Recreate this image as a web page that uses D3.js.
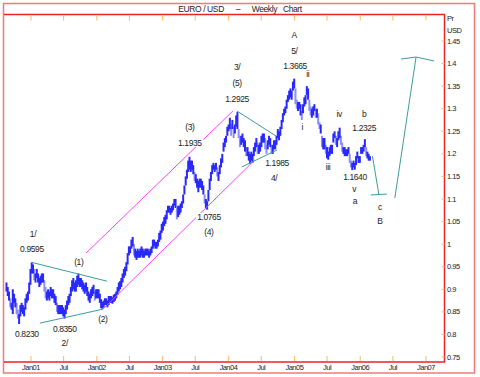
<!DOCTYPE html>
<html>
<head>
<meta charset="utf-8">
<script src="https://cdn.jsdelivr.net/npm/d3@7"></script>
<style>
  body { margin: 0; background: #fff; }
  text { font-family: "Liberation Sans", Arial, sans-serif; fill: #222; }
</style>
</head>
<body>
<svg id="chart" width="480" height="377"></svg>
<script>
// weekly EUR/USD bars, first bar is the week ending 2000-08-18
const firstWeek = '2000-08-18'
const weekLow = [
  // 2000
  0.895, 0.885, 0.875, 0.860, 0.855, 0.845, 0.870, 0.860, 0.845, 0.835, 0.823, 0.840, 0.850, 0.845, 0.840, 0.855, 0.870, 0.875, 0.890, 0.910,
  // 2001
  0.935, 0.935, 0.920, 0.915, 0.925, 0.915, 0.905, 0.910, 0.915, 0.915, 0.895, 0.880, 0.875,
  0.880, 0.875, 0.885, 0.880, 0.880, 0.870, 0.865, 0.850, 0.845, 0.845, 0.845, 0.845, 0.840,
  0.835, 0.845, 0.855, 0.865, 0.870, 0.885, 0.895, 0.900, 0.895, 0.895, 0.905, 0.910, 0.905,
  0.905, 0.900, 0.895, 0.890, 0.895, 0.885, 0.875, 0.870, 0.880, 0.885, 0.890, 0.875, 0.880,
  // 2002
  0.880, 0.880, 0.870, 0.858, 0.857, 0.860, 0.865, 0.865, 0.860, 0.865, 0.870, 0.870, 0.868,
  0.872, 0.875, 0.880, 0.888, 0.895, 0.900, 0.905, 0.915, 0.925, 0.930, 0.940, 0.955, 0.975,
  0.980, 0.990, 0.995, 0.975, 0.970, 0.965, 0.970, 0.970, 0.970, 0.975, 0.970, 0.970, 0.975,
  0.975, 0.975, 0.970, 0.975, 0.980, 0.990, 0.995, 0.990, 0.990, 0.995, 1.005, 1.010, 1.025,
  // 2003
  1.030, 1.040, 1.045, 1.055, 1.070, 1.070, 1.065, 1.070, 1.075, 1.085, 1.080, 1.055, 1.060,
  1.065, 1.070, 1.080, 1.090, 1.110, 1.130, 1.145, 1.160, 1.165, 1.160, 1.165, 1.155, 1.140,
  1.135, 1.125, 1.115, 1.125, 1.125, 1.120, 1.110, 1.090, 1.080, 1.0765, 1.095, 1.120, 1.140,
  1.155, 1.165, 1.160, 1.165, 1.150, 1.140, 1.155, 1.170, 1.180, 1.205, 1.215, 1.225, 1.240,
  // 2004
  1.250, 1.255, 1.240, 1.255, 1.235, 1.245, 1.260, 1.255, 1.235, 1.215, 1.220, 1.225, 1.215,
  1.205, 1.195, 1.195, 1.185, 1.178, 1.185, 1.180, 1.195, 1.205, 1.215, 1.200, 1.200, 1.205,
  1.215, 1.225, 1.225, 1.210, 1.200, 1.210, 1.220, 1.215, 1.200, 1.200, 1.210, 1.210, 1.220,
  1.235, 1.230, 1.240, 1.255, 1.270, 1.285, 1.290, 1.300, 1.315, 1.320, 1.325, 1.320, 1.340, 1.345,
  // 2005
  1.310, 1.300, 1.295, 1.300, 1.285, 1.275, 1.290, 1.305, 1.310, 1.330, 1.320, 1.295,
  1.285, 1.280, 1.285, 1.295, 1.280, 1.280, 1.265, 1.255, 1.245, 1.215, 1.210, 1.210, 1.200,
  1.190, 1.187, 1.195, 1.200, 1.200, 1.225, 1.235, 1.220, 1.215,
  1.230, 1.235, 1.220, 1.205, 1.200, 1.195, 1.195, 1.195, 1.200, 1.180, 1.170, 1.164, 1.170,
  1.165, 1.175, 1.190, 1.180, 1.180,
  // 2006
  1.200, 1.200, 1.205, 1.215, 1.195, 1.190, 1.185, 1.185
]
const weekHigh = [
  // 2000
  0.915, 0.905, 0.895, 0.880, 0.870, 0.900, 0.890, 0.880, 0.870, 0.855, 0.845, 0.865, 0.870, 0.865, 0.860, 0.880, 0.890, 0.895, 0.915, 0.945,
  // 2001
  0.9595, 0.955, 0.945, 0.935, 0.945, 0.935, 0.925, 0.930, 0.935, 0.935, 0.920, 0.905, 0.895,
  0.900, 0.895, 0.905, 0.900, 0.900, 0.890, 0.885, 0.870, 0.865, 0.865, 0.865, 0.865, 0.860,
  0.855, 0.865, 0.875, 0.885, 0.890, 0.905, 0.920, 0.925, 0.915, 0.920, 0.930, 0.935, 0.925,
  0.925, 0.920, 0.915, 0.910, 0.915, 0.905, 0.895, 0.890, 0.900, 0.905, 0.910, 0.895, 0.900,
  // 2002
  0.900, 0.900, 0.890, 0.878, 0.872, 0.875, 0.880, 0.880, 0.875, 0.885, 0.885, 0.885, 0.882,
  0.888, 0.890, 0.895, 0.905, 0.915, 0.918, 0.925, 0.935, 0.945, 0.950, 0.960, 0.980, 0.995,
  0.995, 1.010, 1.016, 1.000, 0.990, 0.985, 0.990, 0.985, 0.990, 0.995, 0.990, 0.985, 0.990,
  0.990, 0.990, 0.985, 0.990, 0.995, 1.010, 1.010, 1.005, 1.005, 1.010, 1.025, 1.030, 1.045,
  // 2003
  1.050, 1.060, 1.065, 1.075, 1.085, 1.085, 1.080, 1.085, 1.090, 1.100, 1.100, 1.080, 1.085,
  1.085, 1.090, 1.095, 1.110, 1.130, 1.150, 1.165, 1.185, 1.1935, 1.185, 1.185, 1.175, 1.160,
  1.155, 1.145, 1.140, 1.145, 1.145, 1.140, 1.130, 1.110, 1.100, 1.095, 1.120, 1.145, 1.160,
  1.175, 1.180, 1.175, 1.180, 1.170, 1.160, 1.175, 1.190, 1.200, 1.225, 1.235, 1.240, 1.260,
  // 2004
  1.265, 1.280, 1.265, 1.275, 1.260, 1.265, 1.285, 1.2925, 1.255, 1.240, 1.240, 1.245, 1.235,
  1.230, 1.215, 1.215, 1.205, 1.200, 1.205, 1.200, 1.215, 1.225, 1.235, 1.225, 1.220, 1.225,
  1.240, 1.245, 1.245, 1.235, 1.220, 1.230, 1.240, 1.235, 1.220, 1.220, 1.230, 1.230, 1.240,
  1.255, 1.250, 1.260, 1.275, 1.290, 1.300, 1.305, 1.320, 1.330, 1.340, 1.345, 1.340, 1.360, 1.3665,
  // 2005
  1.345, 1.320, 1.315, 1.315, 1.310, 1.295, 1.310, 1.325, 1.330, 1.350, 1.345, 1.320,
  1.305, 1.300, 1.305, 1.310, 1.300, 1.300, 1.290, 1.270, 1.265, 1.240, 1.235, 1.235, 1.220,
  1.215, 1.205, 1.215, 1.220, 1.220, 1.245, 1.250, 1.240, 1.235,
  1.250, 1.258, 1.240, 1.225, 1.215, 1.215, 1.210, 1.210, 1.215, 1.200, 1.185, 1.180, 1.185,
  1.180, 1.195, 1.205, 1.195, 1.195,
  // 2006
  1.215, 1.215, 1.220, 1.2325, 1.215, 1.205, 1.200, 1.195
]

const priceTicks = [0.75, 0.8, 0.85, 0.9, 0.95, 1, 1.05, 1.1, 1.15, 1.2, 1.25, 1.3, 1.35, 1.4, 1.45]
const dateTicks = ['2001-01-01', '2001-07-01', '2002-01-01', '2002-07-01', '2003-01-01', '2003-07-01', '2004-01-01',
  '2004-07-01', '2005-01-01', '2005-07-01', '2006-01-01', '2006-07-01', '2007-01-01']
const dateTickLabels = ['Jan01', 'Jul', 'Jan02', 'Jul', 'Jan03', 'Jul', 'Jan04', 'Jul', 'Jan05', 'Jul', 'Jan06', 'Jul', 'Jan07']

// wave count trend lines, [date, price] points
const tealLines = [
  [['2001-01-06', 0.9595], ['2002-02-26', 0.918]],
  [['2001-02-19', 0.825], ['2002-02-04', 0.856]],
  [['2004-02-17', 1.295], ['2004-09-21', 1.2395]],
  [['2004-03-15', 1.171], ['2004-09-27', 1.2085]],
  [['2006-03-10', 1.195], ['2006-04-15', 1.109]],
  [['2006-03-01', 1.109], ['2006-05-29', 1.111]],
  [['2006-07-12', 1.102], ['2006-11-07', 1.4145]],
  [['2006-08-15', 1.410], ['2006-11-07', 1.4145], ['2007-02-15', 1.4057]]
]
const channelLines = [
  [['2001-11-02', 0.980], ['2004-01-26', 1.295]],
  [['2002-02-04', 0.856], ['2004-05-26', 1.1864]]
]

// wave labels: text, date, price
const waveLabels = [
  ['1/', '2001-01-12', 1.0225], ['0.9595', '2001-01-06', 0.989],
  ['0.8230', '2000-12-09', 0.801], ['0.8350', '2001-07-07', 0.812], ['2/', '2001-07-07', 0.781],
  ['(1)', '2001-09-23', 0.960], ['(2)', '2002-02-04', 0.834],
  ['(3)', '2003-06-01', 1.2595], ['1.1935', '2003-06-01', 1.224],
  ['1.0765', '2003-09-15', 1.060], ['(4)', '2003-09-15', 1.027],
  ['3/', '2004-02-18', 1.392], ['(5)', '2004-02-18', 1.357], ['1.2925', '2004-02-18', 1.3215],
  ['1.1985', '2004-09-27', 1.180], ['4/', '2004-09-10', 1.1465],
  ['A', '2004-12-30', 1.463], ['5/', '2005-01-01', 1.428], ['1.3665', '2005-01-05', 1.3946],
  ['ii', '2005-03-16', 1.377], ['i', '2005-02-13', 1.2595], ['iii', '2005-07-06', 1.171],
  ['iv', '2005-09-06', 1.288], ['b', '2006-01-23', 1.288], ['1.2325', '2006-01-23', 1.257],
  ['1.1640', '2005-12-03', 1.149], ['v', '2005-11-28', 1.122], ['a', '2005-12-03', 1.0956],
  ['c', '2006-04-20', 1.082], ['B', '2006-04-20', 1.051]
]

const parse = d3.timeParse('%Y-%m-%d')
const svg = d3.select('#chart')

const x = d3.scaleTime()
  .domain([parse('2001-01-01'), parse('2007-01-01')])
  .range([31, 426])
const y = d3.scaleLinear()
  .domain([0.75, 1.45])
  .range([357, 41])

const plot = {left: 4, top: 14.5, right: 444.5, bottom: 362}

// frames
svg.append('rect')
  .attr('x', 3.5).attr('y', 3.5).attr('width', 471).attr('height', 369.5)
  .style('fill', 'none').style('stroke', '#f27a7a').style('stroke-width', 1.5)
svg.append('path')
  .attr('d', `M${plot.left},${plot.top}H${plot.right}V${plot.bottom}H${plot.left}`)
  .style('fill', 'none').style('stroke', '#e82424').style('stroke-width', 1.5)

svg.append('text')
  .attr('x', 240).attr('y', 12)
  .attr('text-anchor', 'middle')
  .style('font-size', '8.5px').style('letter-spacing', '-0.4px').style('white-space', 'pre')
  .text('EURO / USD      –      Weekly   Chart')

// x ticks top and bottom
const xTickDates = dateTicks.map(parse)
svg.selectAll('.xtick-b')
  .data(xTickDates)
  .enter().append('line')
  .attr('x1', d => x(d)).attr('x2', d => x(d))
  .attr('y1', plot.bottom - 6).attr('y2', plot.bottom - 1)
  .style('stroke', '#ffb866').style('stroke-width', 1)
svg.selectAll('.xtick-t')
  .data(xTickDates)
  .enter().append('line')
  .attr('x1', d => x(d)).attr('x2', d => x(d))
  .attr('y1', plot.top + 1).attr('y2', plot.top + 6)
  .style('stroke', '#ffb866').style('stroke-width', 1)
svg.selectAll('.xlab')
  .data(xTickDates)
  .enter().append('text')
  .attr('x', d => x(d)).attr('y', 370)
  .attr('text-anchor', 'middle')
  .style('font-size', '7.5px').style('letter-spacing', '-0.5px')
  .text((d, i) => dateTickLabels[i])

// y ticks on the right
svg.selectAll('.ytick')
  .data(priceTicks)
  .enter().append('line')
  .attr('x1', plot.right - 3).attr('x2', plot.right)
  .attr('y1', d => y(d)).attr('y2', d => y(d))
  .style('stroke', '#ffb866').style('stroke-width', 1)
svg.selectAll('.ylab')
  .data(priceTicks)
  .enter().append('text')
  .attr('x', 447).attr('y', d => y(d)).attr('dy', '0.35em')
  .style('font-size', '7.5px').style('letter-spacing', '-0.5px')
  .text(d => String(d))
svg.append('text').attr('x', 447).attr('y', 21)
  .style('font-size', '7.5px').style('letter-spacing', '-0.5px').text('Pr')
svg.append('text').attr('x', 447).attr('y', 33)
  .style('font-size', '7.5px').style('letter-spacing', '-0.5px').text('USD')

// weekly bars, a few falling weeks in the paler blue
const start = parse(firstWeek)
const bars = weekLow.map((lo, i) => {
  let hi = weekHigh[i]
  let mid = (lo + hi) / 2
  let prev = i === 0 ? mid : (weekLow[i - 1] + weekHigh[i - 1]) / 2
  return {date: d3.timeWeek.offset(start, i), lo: lo, hi: hi, down: mid < prev - 0.012}
})
svg.append('g')
  .selectAll('line')
  .data(bars.filter(d => d.down).concat(bars.filter(d => !d.down)))
  .enter().append('line')
  .attr('x1', d => x(d.date)).attr('x2', d => x(d.date))
  .attr('y1', d => y(d.lo)).attr('y2', d => y(d.hi))
  .style('stroke', d => d.down ? '#8d8dff' : '#2828ff')
  .style('stroke-width', 2)

// trend lines
const line = d3.line()
  .x(d => x(parse(d[0])))
  .y(d => y(d[1]))
svg.append('g').selectAll('path')
  .data(channelLines)
  .enter().append('path')
  .attr('d', line)
  .style('fill', 'none').style('stroke', '#ff44ff').style('stroke-width', 1)
svg.append('g').selectAll('path')
  .data(tealLines)
  .enter().append('path')
  .attr('d', line)
  .style('fill', 'none').style('stroke', '#3d9c9c').style('stroke-width', 1)

// labels with white boxes behind them
const lab = svg.append('g').selectAll('g')
  .data(waveLabels)
  .enter().append('g')
  .attr('transform', d => `translate(${x(parse(d[1]))},${y(d[2])})`)
lab.append('text')
  .attr('text-anchor', 'middle').attr('dy', '0.35em')
  .style('font-size', '8.5px').style('letter-spacing', '-0.4px')
  .text(d => d[0])
lab.each(function () {
  let g = d3.select(this)
  let b = g.select('text').node().getBBox()
  g.insert('rect', 'text')
    .attr('x', b.x - 1).attr('y', b.y + 1).attr('width', b.width + 2).attr('height', b.height - 2)
    .style('fill', '#fff')
})
</script>
</body>
</html>
